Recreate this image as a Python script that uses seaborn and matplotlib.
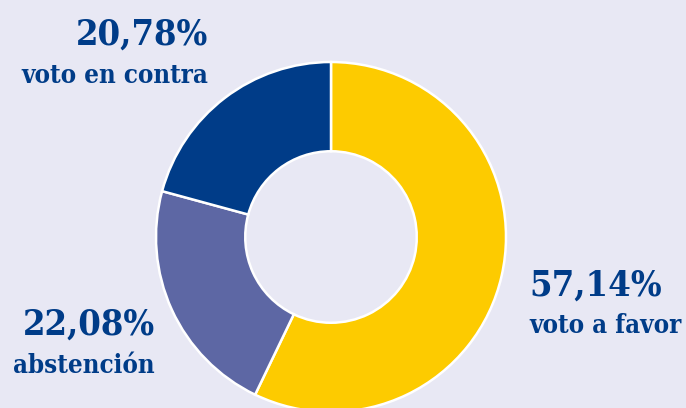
import matplotlib
matplotlib.use('Agg')
import matplotlib.pyplot as plt
import seaborn as sns

# Voting results shown in the donut chart.
labels = ['voto a favor', 'abstención', 'voto en contra']
values = [57.14, 22.08, 20.78]
pct_text = ['57,14%', '22,08%', '20,78%']
colors = ['#fdcb00', '#5d67a4', '#003c88']

bg = '#e8e8f4'
text_color = '#003c88'

sns.set_theme(style='white', rc={'figure.facecolor': bg, 'axes.facecolor': bg})
plt.rcParams['font.family'] = ['DejaVu Serif', 'DejaVu Sans']

W, H = 686, 408
fig = plt.figure(figsize=(W / 100, H / 100), dpi=100)
ax = fig.add_axes([0, 0, 1, 1])
ax.axis('off')

# Donut: radius in pixels, centre (y counted from the top).
cx, cy, r = 331, 237, 175
ax.pie(values, colors=colors, startangle=90, counterclock=False,
       center=(cx, H - cy), radius=r,
       wedgeprops=dict(width=r * 0.51, edgecolor='white', linewidth=1.8))
ax.set_xlim(0, W)
ax.set_ylim(0, H)

# Labels: (x, baseline of percent, baseline of label, alignment)
label_pos = {
    'voto a favor': (529, 296, 333, 'left'),
    'abstención': (155, 335, 373, 'right'),
    'voto en contra': (208, 45, 83, 'right'),
}
for lab, pct in zip(labels, pct_text):
    x, yp, yl, ha = label_pos[lab]
    ax.text(x, H - yp, pct, ha=ha, va='baseline', fontsize=26, fontweight='bold',
            fontstretch='condensed', color=text_color)
    ax.text(x, H - yl, lab, ha=ha, va='baseline', fontsize=18.5, fontweight='bold',
            fontstretch='condensed', color=text_color)

fig.savefig('out.png', dpi=100, facecolor=bg)
